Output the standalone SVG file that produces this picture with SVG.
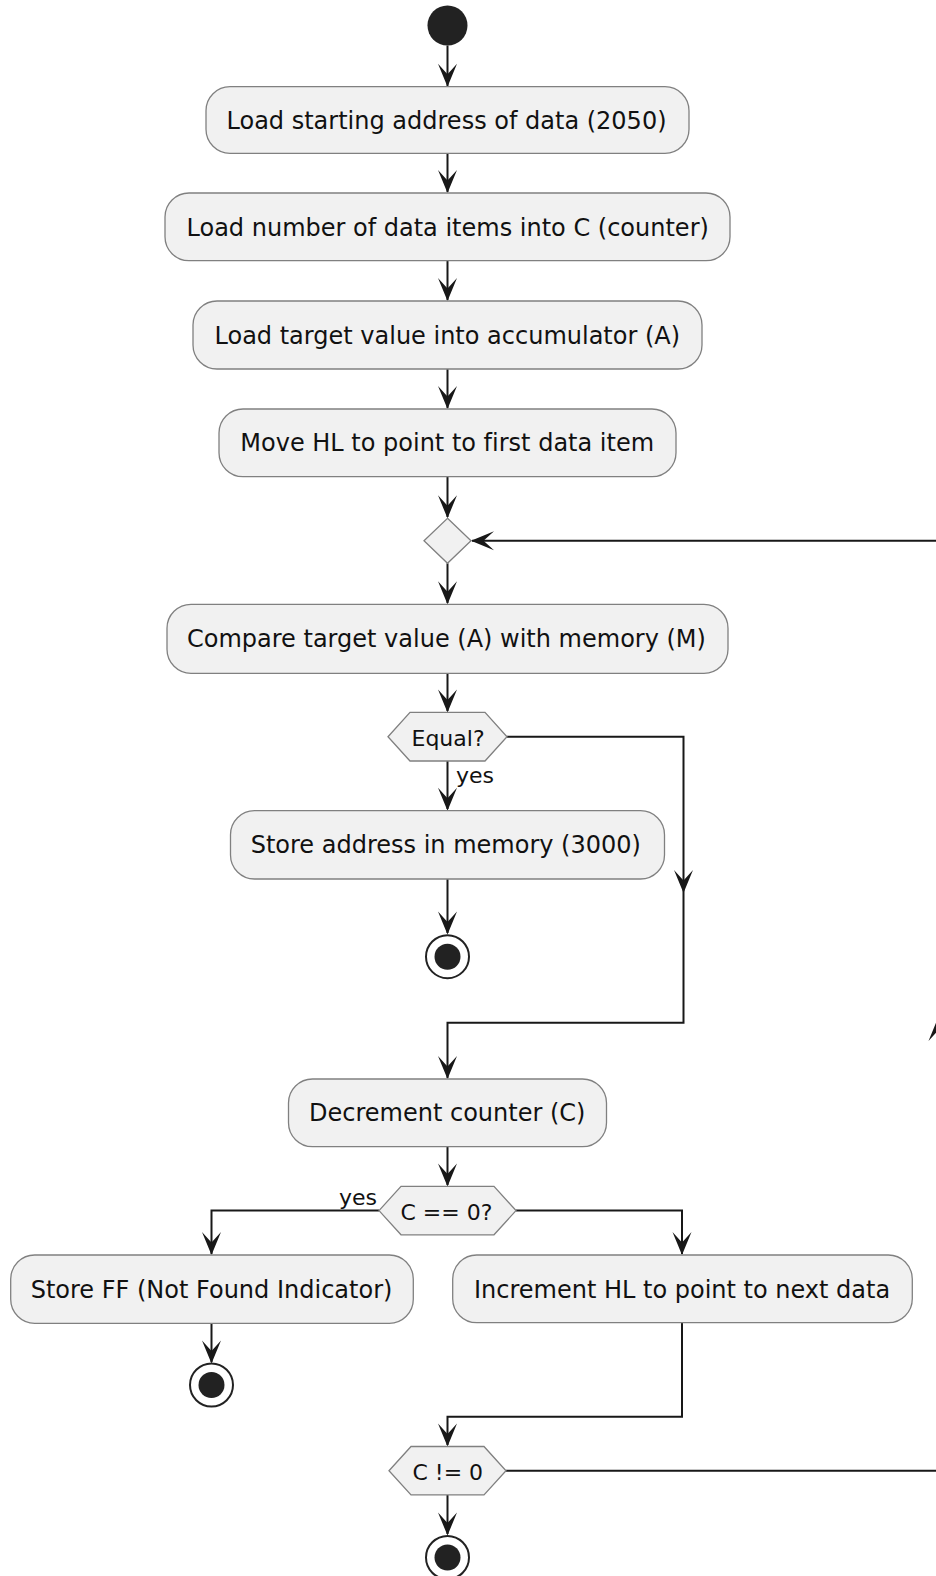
<svg xmlns="http://www.w3.org/2000/svg" width="936" height="1576" viewBox="0 0 936 1576">
  <style>
    .act { fill: #F1F1F1; stroke: #808080; stroke-width: 1.3; }
    .lbl { font-family: "DejaVu Sans", "Liberation Sans", sans-serif; font-size: 24px; fill: #111; font-variant-ligatures: none; }
    .small { font-family: "DejaVu Sans", "Liberation Sans", sans-serif; font-size: 22px; fill: #111; font-variant-ligatures: none; }
    .edge { fill: none; stroke: #181818; stroke-width: 2; }
    .head { fill: #181818; stroke: none; }
    .dot { fill: #222222; }
    .ring { fill: #FFFFFF; stroke: #222222; stroke-width: 2; }
  </style>
  <defs>
    <!-- arrowhead pointing down, tip at origin -->
    <path id="ah" class="head" d="M0,0 L-9.5,-23 L0,-12.5 L9.5,-23 Z"/>
  </defs>
  <rect width="936" height="1576" fill="#FFFFFF"/>

  <!-- connectors -->
  <g id="connectors">
    <path class="edge" d="M447.5,45.5 V86"/>
    <use href="#ah" x="447.5" y="86.7"/>
    <path class="edge" d="M447.5,153.3 V192"/>
    <use href="#ah" x="447.5" y="193"/>
    <path class="edge" d="M447.5,260.7 V300"/>
    <use href="#ah" x="447.5" y="301"/>
    <path class="edge" d="M447.5,369 V408"/>
    <use href="#ah" x="447.5" y="409"/>
    <path class="edge" d="M447.5,476.7 V517"/>
    <use href="#ah" x="447.5" y="518.3"/>
    <path class="edge" d="M447.5,563.3 V603"/>
    <use href="#ah" x="447.5" y="604.3"/>
    <path class="edge" d="M447.5,673.3 V711"/>
    <use href="#ah" x="447.5" y="712.4"/>
    <!-- Equal? yes -->
    <path class="edge" d="M447.5,761 V809"/>
    <use href="#ah" x="447.5" y="810.7"/>
    <text class="small" x="456" y="782.7">yes</text>
    <path class="edge" d="M447.5,879 V933"/>
    <use href="#ah" x="447.5" y="934.5"/>
    <!-- Equal? no branch -->
    <path class="edge" d="M507,736.7 H683.5 V1022.7 H447.5 V1078"/>
    <use href="#ah" x="683.5" y="893"/>
    <use href="#ah" x="447.5" y="1079"/>
    <path class="edge" d="M447.5,1146.7 V1185"/>
    <use href="#ah" x="447.5" y="1186.4"/>
    <!-- C == 0? yes -->
    <path class="edge" d="M379,1210.6 H211.5 V1254"/>
    <use href="#ah" x="211.5" y="1255"/>
    <text class="small" x="339" y="1205">yes</text>
    <path class="edge" d="M211.5,1323.3 V1362"/>
    <use href="#ah" x="211.5" y="1363.5"/>
    <!-- C == 0? no -->
    <path class="edge" d="M516,1210.6 H682 V1254"/>
    <use href="#ah" x="682" y="1255"/>
    <path class="edge" d="M682,1322.7 V1416.7 H447.5 V1445"/>
    <use href="#ah" x="447.5" y="1446.5"/>
    <path class="edge" d="M447.5,1494.9 V1534"/>
    <use href="#ah" x="447.5" y="1535.5"/>
    <!-- loop back to merge point -->
    <path class="edge" d="M506,1470.7 H938 V540.7 H472"/>
    <use href="#ah" transform="translate(938,1018) rotate(180)"/>
    <use href="#ah" transform="translate(471,540.7) rotate(90)"/>
  </g>

  <g id="start">
    <circle class="dot" cx="447.5" cy="25.5" r="20"/>
  </g>

  <g id="load-address">
    <rect class="act" x="206" y="86.7" width="483" height="66.6" rx="24" ry="24"/>
    <text class="lbl" x="226.5" y="128.6">Load starting address of data (2050)</text>
  </g>

  <g id="load-count">
    <rect class="act" x="165" y="193" width="565" height="67.7" rx="24" ry="24"/>
    <text class="lbl" x="186.5" y="235.5">Load number of data items into C (counter)</text>
  </g>

  <g id="load-target">
    <rect class="act" x="193" y="301" width="509" height="68" rx="24" ry="24"/>
    <text class="lbl" x="214.5" y="343.6">Load target value into accumulator (A)</text>
  </g>

  <g id="move-hl">
    <rect class="act" x="219" y="409" width="457" height="67.7" rx="24" ry="24"/>
    <text class="lbl" x="240.3" y="451.4">Move HL to point to first data item</text>
  </g>

  <g id="merge">
    <polygon class="act" points="447.5,518.3 471,540.7 447.5,563.3 424,540.7"/>
  </g>

  <g id="compare">
    <rect class="act" x="167" y="604.3" width="561" height="69" rx="24" ry="24"/>
    <text class="lbl" x="187" y="647.4">Compare target value (A) with memory (M)</text>
  </g>

  <g id="equal">
    <polygon class="act" points="388,736.7 410,712.4 485,712.4 507,736.7 485,761 410,761"/>
    <text class="small" x="411.5" y="746">Equal?</text>
  </g>

  <g id="store-address">
    <rect class="act" x="230.5" y="810.7" width="434" height="68.3" rx="24" ry="24"/>
    <text class="lbl" x="250.7" y="853.4">Store address in memory (3000)</text>
  </g>

  <g id="end-found">
    <circle class="ring" cx="447.5" cy="956.7" r="21.5"/>
    <circle class="dot" cx="447.5" cy="956.7" r="13"/>
  </g>

  <g id="decrement">
    <rect class="act" x="288.5" y="1079" width="318" height="67.7" rx="24" ry="24"/>
    <text class="lbl" x="309" y="1121.4">Decrement counter (C)</text>
  </g>

  <g id="zero-check">
    <polygon class="act" points="379,1210.6 401,1186.4 494,1186.4 516,1210.6 494,1234.8 401,1234.8"/>
    <text class="small" x="400.5" y="1219.9">C == 0?</text>
  </g>

  <g id="store-ff">
    <rect class="act" x="10.7" y="1255" width="402.6" height="68.3" rx="24" ry="24"/>
    <text class="lbl" x="30.7" y="1297.8">Store FF (Not Found Indicator)</text>
  </g>

  <g id="end-not-found">
    <circle class="ring" cx="211.5" cy="1385" r="21.5"/>
    <circle class="dot" cx="211.5" cy="1385" r="13"/>
  </g>

  <g id="increment">
    <rect class="act" x="452.7" y="1255" width="459.6" height="67.7" rx="24" ry="24"/>
    <text class="lbl" x="474" y="1297.5">Increment HL to point to next data</text>
  </g>

  <g id="nonzero-check">
    <polygon class="act" points="389,1470.7 411,1446.5 484,1446.5 506,1470.7 484,1494.9 411,1494.9"/>
    <text class="small" x="412.5" y="1480">C != 0</text>
  </g>

  <g id="end">
    <circle class="ring" cx="447.5" cy="1557.5" r="21.5"/>
    <circle class="dot" cx="447.5" cy="1557.5" r="13"/>
  </g>
</svg>
